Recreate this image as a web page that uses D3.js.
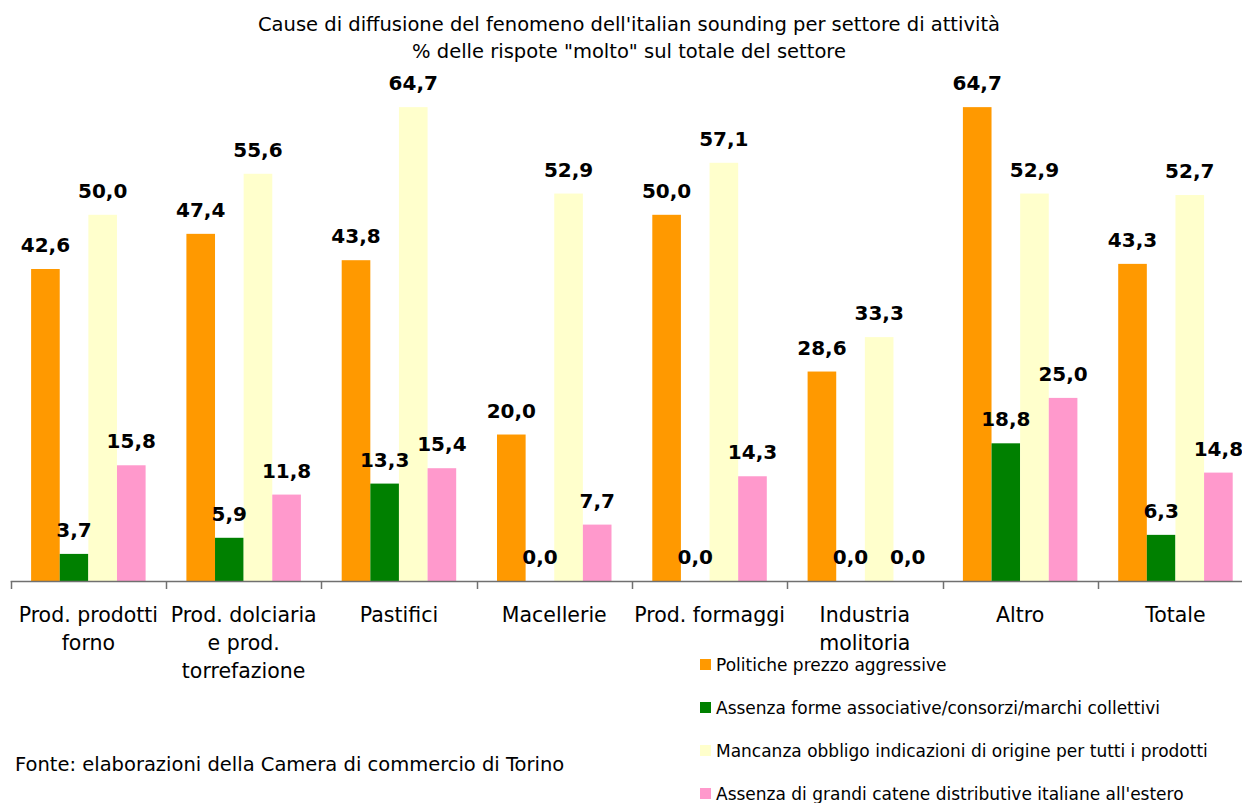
<!DOCTYPE html>
<html>
<head>
<meta charset="utf-8">
<script src="https://cdn.jsdelivr.net/npm/d3@7"></script>
<style>
  body { margin: 0; background: #fff; }
  svg { display: block; font-family: "DejaVu Sans", sans-serif; }
</style>
</head>
<body>
<script>
'use strict';

var categories = ["Prod. prodotti\nforno", "Prod. dolciaria\ne prod.\ntorrefazione", "Pastifici", "Macellerie",
                  "Prod. formaggi", "Industria\nmolitoria", "Altro", "Totale"];
var seriesNames = ["Politiche prezzo aggressive",
                   "Assenza forme associative/consorzi/marchi collettivi",
                   "Mancanza obbligo indicazioni di origine per tutti i prodotti",
                   "Assenza di grandi catene distributive italiane all'estero"];
var politiche = [42.6, 47.4, 43.8, 20.0, 50.0, 28.6, 64.7, 43.3];
var assenzaForme = [3.7, 5.9, 13.3, 0.0, 0.0, 0.0, 18.8, 6.3];
var mancanza = [50.0, 55.6, 64.7, 52.9, 57.1, 33.3, 52.9, 52.7];
var assenzaCatene = [15.8, 11.8, 15.4, 7.7, 14.3, 0.0, 25.0, 14.8];
var colors = ["#ff9900", "#008000", "#ffffcc", "#ff99cc"];

var seriesValues = [politiche, assenzaForme, mancanza, assenzaCatene];

var svg = d3.select("body").append("svg")
    .attr("width", 1242)
    .attr("height", 803);

// titolo
svg.append("text")
    .attr("x", 629).attr("y", 31)
    .attr("text-anchor", "middle")
    .attr("font-size", 19.5)
    .text("Cause di diffusione del fenomeno dell'italian sounding per settore di attività");
svg.append("text")
    .attr("x", 629).attr("y", 58)
    .attr("text-anchor", "middle")
    .attr("font-size", 19.5)
    .text("% delle rispote \"molto\" sul totale del settore");

// scale
var xScale = d3.scaleBand()
    .domain(categories)
    .range([10.7, 10.7 + 8 * 155.3])
    .padding(0);

var xInner = d3.scaleBand()
    .domain(d3.range(seriesNames.length))
    .range([20.4, xScale.bandwidth() - 20.4])
    .padding(0);

var yScale = d3.scaleLinear()
    .domain([0, 70])
    .range([581, 581 - 70 * 7.324]);

// barre
var data = [];
categories.forEach(function(c, i) {
    seriesValues.forEach(function(vals, s) {
        data.push({cat: c, s: s, v: vals[i]});
    });
});

svg.selectAll(".bar")
    .data(data)
    .enter()
    .append("rect")
    .attr("class", "bar")
    .attr("x", function(d) { return xScale(d.cat) + xInner(d.s); })
    .attr("width", xInner.bandwidth())
    .attr("y", function(d) { return yScale(d.v); })
    .attr("height", function(d) { return yScale(0) - yScale(d.v); })
    .attr("fill", function(d) { return colors[d.s]; });

// etichette valori
svg.selectAll(".lbl")
    .data(data)
    .enter()
    .append("text")
    .attr("class", "lbl")
    .attr("x", function(d) { return xScale(d.cat) + xInner(d.s) + xInner.bandwidth() / 2; })
    .attr("y", function(d) { return yScale(d.v) - 17; })
    .attr("text-anchor", "middle")
    .attr("font-size", 20)
    .attr("font-weight", "bold")
    .text(function(d) { return d.v.toFixed(1).replace(".", ","); });

// asse x
var axis = svg.append("g");
axis.append("line")
    .attr("x1", xScale.range()[0]).attr("x2", 1242)
    .attr("y1", yScale(0) + 0.5).attr("y2", yScale(0) + 0.5)
    .attr("stroke", "#707070").attr("stroke-width", 1.5);
axis.selectAll(".tick")
    .data(categories)
    .enter()
    .append("line")
    .attr("x1", function(d) { return Math.round(xScale(d)) + 0.5; })
    .attr("x2", function(d) { return Math.round(xScale(d)) + 0.5; })
    .attr("y1", yScale(0))
    .attr("y2", yScale(0) + 8)
    .attr("stroke", "#707070").attr("stroke-width", 1.5);

var catLabels = axis.selectAll(".cat")
    .data(categories)
    .enter()
    .append("text")
    .attr("class", "cat")
    .attr("text-anchor", "middle")
    .attr("font-size", 20.5);
catLabels.each(function(d) {
    var t = d3.select(this);
    d.split("\n").forEach(function(line, k) {
        t.append("tspan")
            .attr("x", xScale(d) + xScale.bandwidth() / 2)
            .attr("y", 622 + k * 28)
            .text(line);
    });
});

// legenda
var legend = svg.selectAll(".leg")
    .data(seriesNames)
    .enter()
    .append("g")
    .attr("class", "leg")
    .attr("transform", function(d, i) { return "translate(700," + (665 + i * 43) + ")"; });
legend.append("rect")
    .attr("x", 0).attr("y", -6)
    .attr("width", 11).attr("height", 11)
    .attr("fill", function(d, i) { return colors[i]; });
legend.append("text")
    .attr("x", 16).attr("y", 6)
    .attr("font-size", 17)
    .text(function(d) { return d; });

// fonte
svg.append("text")
    .attr("x", 15).attr("y", 771)
    .attr("font-size", 19.5)
    .text("Fonte: elaborazioni della Camera di commercio di Torino");
</script>
</body>
</html>
